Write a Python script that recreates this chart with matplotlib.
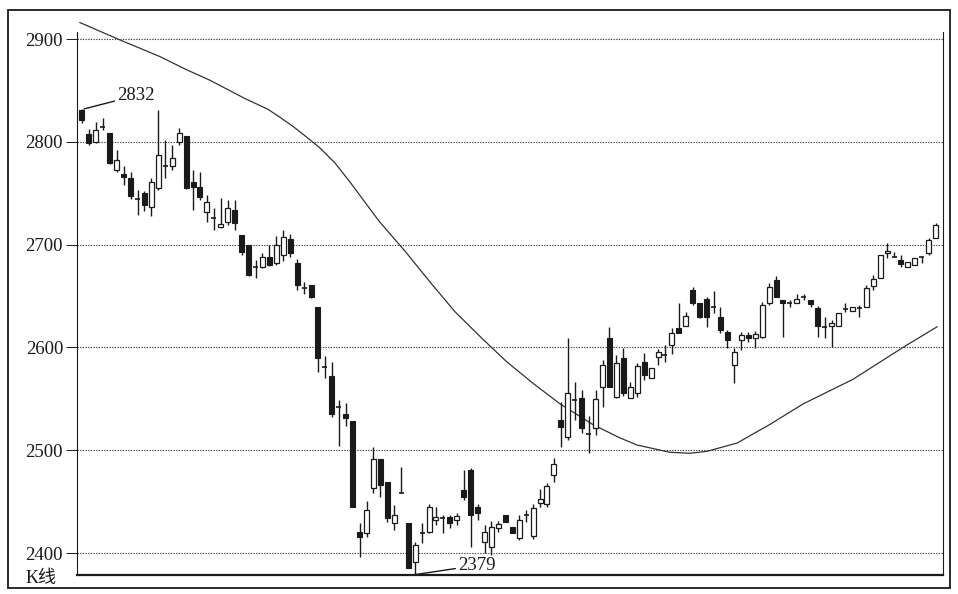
import matplotlib
matplotlib.use('Agg')
from matplotlib import pyplot as plt
from matplotlib.patches import Rectangle

# daily candles (open, close, high, low)
opens = [2831, 2808, 2800, 2814, 2809, 2773, 2769, 2765, 2744, 2750,
         2737, 2755, 2776, 2776, 2800, 2806, 2761, 2756, 2732, 2726,
         2717, 2722, 2734, 2709, 2700, 2678, 2678, 2688, 2682, 2690,
         2705, 2682, 2658, 2661, 2639, 2581, 2572, 2542, 2535, 2528,
         2420, 2419, 2463, 2491, 2469, 2429, 2458, 2429, 2391, 2419,
         2420, 2432, 2434, 2435, 2432, 2461, 2481, 2445, 2411, 2406,
         2424, 2437, 2425, 2415, 2437, 2417, 2449, 2448, 2476, 2529,
         2513, 2549, 2551, 2516, 2522, 2561, 2609, 2552, 2590, 2551,
         2556, 2586, 2570, 2591, 2593, 2602, 2619, 2621, 2656, 2643,
         2647, 2639, 2630, 2615, 2583, 2607, 2612, 2609, 2610, 2643,
         2666, 2646, 2643, 2643, 2649, 2646, 2638, 2620, 2621, 2621,
         2637, 2635, 2638, 2639, 2660, 2668, 2692, 2688, 2685, 2678,
         2680, 2688, 2692, 2706]
closes = [2821, 2799, 2811, 2815, 2779, 2782, 2766, 2747, 2745, 2739,
          2761, 2787, 2777, 2784, 2809, 2755, 2756, 2746, 2741, 2727,
          2720, 2736, 2721, 2693, 2670, 2679, 2688, 2680, 2700, 2707,
          2692, 2661, 2659, 2649, 2590, 2582, 2535, 2543, 2531, 2445,
          2416, 2442, 2491, 2466, 2434, 2437, 2458, 2385, 2408, 2420,
          2445, 2435, 2435, 2429, 2436, 2454, 2437, 2439, 2420, 2425,
          2428, 2430, 2419, 2432, 2438, 2444, 2453, 2465, 2487, 2523,
          2556, 2550, 2522, 2517, 2550, 2583, 2561, 2585, 2556, 2561,
          2582, 2573, 2580, 2596, 2594, 2614, 2614, 2631, 2643, 2630,
          2630, 2640, 2617, 2607, 2596, 2612, 2609, 2613, 2641, 2659,
          2649, 2643, 2644, 2647, 2650, 2642, 2621, 2621, 2624, 2633,
          2636, 2639, 2639, 2658, 2667, 2690, 2694, 2689, 2681, 2683,
          2687, 2688, 2704, 2719]
highs = [2832, 2812, 2819, 2823, 2809, 2792, 2776, 2771, 2753, 2752,
         2765, 2831, 2802, 2797, 2813, 2806, 2773, 2771, 2748, 2736,
         2745, 2743, 2743, 2709, 2700, 2685, 2692, 2700, 2708, 2714,
         2710, 2686, 2664, 2661, 2639, 2592, 2586, 2549, 2546, 2528,
         2429, 2451, 2503, 2491, 2469, 2447, 2484, 2429, 2411, 2429,
         2448, 2445, 2437, 2437, 2439, 2481, 2483, 2448, 2427, 2431,
         2431, 2437, 2425, 2437, 2442, 2448, 2462, 2468, 2492, 2547,
         2609, 2566, 2559, 2533, 2559, 2588, 2620, 2593, 2599, 2566,
         2585, 2595, 2580, 2598, 2602, 2619, 2643, 2634, 2659, 2643,
         2649, 2655, 2639, 2617, 2599, 2615, 2615, 2616, 2644, 2663,
         2669, 2646, 2646, 2652, 2652, 2646, 2640, 2630, 2627, 2633,
         2643, 2639, 2641, 2661, 2670, 2690, 2702, 2693, 2690, 2683,
         2687, 2688, 2706, 2721]
lows = [2818, 2797, 2799, 2811, 2778, 2771, 2758, 2744, 2729, 2733,
        2728, 2753, 2765, 2773, 2797, 2754, 2734, 2743, 2722, 2714,
        2716, 2719, 2714, 2690, 2669, 2668, 2677, 2679, 2680, 2684,
        2688, 2656, 2652, 2648, 2576, 2570, 2532, 2504, 2524, 2445,
        2396, 2416, 2458, 2454, 2430, 2422, 2458, 2385, 2379, 2410,
        2419, 2427, 2419, 2424, 2427, 2452, 2406, 2432, 2400, 2398,
        2420, 2430, 2419, 2413, 2430, 2414, 2445, 2445, 2469, 2503,
        2510, 2529, 2517, 2497, 2515, 2542, 2561, 2551, 2553, 2551,
        2552, 2568, 2570, 2583, 2586, 2594, 2614, 2621, 2641, 2629,
        2620, 2633, 2614, 2599, 2565, 2597, 2605, 2599, 2609, 2641,
        2649, 2610, 2639, 2643, 2646, 2639, 2610, 2609, 2600, 2621,
        2634, 2635, 2630, 2639, 2656, 2668, 2687, 2688, 2678, 2678,
        2680, 2682, 2690, 2706]

# moving average curve, sampled along the picture (candle index, value)
ma_idx = [-0.3, 5.5, 11.2, 15.1, 18.4, 21.8, 23.5, 26.7, 28.5, 30.4,
          32.1, 34.3, 36.5, 38.6, 40.8, 42.9, 44.7, 46.5, 50.1, 53.7,
          57.6, 61.2, 65.0, 68.9, 73.6, 77.5, 80.0, 84.7, 87.6, 90.1,
          94.4, 99.1, 103.9, 111.1, 118.3, 123.2]
ma_val = [2916, 2899, 2883, 2870, 2860, 2848, 2842, 2832, 2824, 2815,
          2806, 2794, 2779, 2761, 2741, 2722, 2708, 2694, 2664, 2635,
          2609, 2586, 2565, 2545, 2525, 2512, 2505, 2498, 2497, 2499,
          2507, 2525, 2545, 2569, 2600, 2620]

yticks = [2400, 2500, 2600, 2700, 2800, 2900]
ink = '#1a1a1a'
fam = ['Liberation Serif', 'Noto Sans CJK SC']
plt.rcParams['font.family'] = fam

fig = plt.figure(figsize=(9.58, 5.94), dpi=100)
fig.patches.append(Rectangle((8 / 958, 6 / 594), 942 / 958, 578 / 594,
                             transform=fig.transFigure, fill=False,
                             edgecolor=ink, linewidth=1.3))
ax = fig.add_axes([77 / 958, 19 / 594, 866 / 958, 562 / 594])

ybot, ytop = 2378.6, 2925.3
ax.set_xlim(-0.72, 124.06)
ax.set_ylim(ybot, ytop)

n = len(opens)
for i in range(n):
    o, c, h, l = opens[i], closes[i], highs[i], lows[i]
    ax.vlines(i, l, h, color=ink, linewidth=1.0, zorder=2)
    lo, hi = min(o, c), max(o, c)
    if hi - lo < 1.2:
        ax.hlines(o, i - 0.36, i + 0.36, color=ink, linewidth=1.2, zorder=3)
        continue
    if c < o:
        ax.bar(i, hi - lo, bottom=lo, width=0.72, color=ink, edgecolor=ink,
               linewidth=0.8, zorder=3)
    else:
        ax.bar(i, hi - lo, bottom=lo, width=0.72, color='white', edgecolor=ink,
               linewidth=0.9, zorder=3)

ax.plot(ma_idx, ma_val, color='#333333', linewidth=0.9, zorder=1)

# gridlines
for v in yticks:
    ax.axhline(v, color='#444444', linestyle=(0, (1.2, 1.2)), linewidth=0.8, zorder=0)

ax.spines['top'].set_visible(False)
ax.spines['left'].set_bounds(ybot, 2907)
ax.spines['right'].set_bounds(ybot, 2907)
ax.spines['left'].set_color(ink)
ax.spines['right'].set_color(ink)
ax.spines['right'].set_linewidth(0.8)
ax.spines['bottom'].set_color(ink)
ax.spines['bottom'].set_linewidth(1.6)
ax.set_xticks([])
ax.set_yticks(yticks)
ax.set_yticklabels([str(v) for v in yticks], fontsize=13.5, color=ink)
ax.tick_params(axis='y', length=8, width=0.7, pad=2, colors=ink)

# annotations for the high and the low
ax.annotate('2832', xy=(0.3, 2832), xytext=(5.1, 2845), fontsize=13.5, color=ink,
            va='center', ha='left',
            arrowprops=dict(arrowstyle='-', color=ink, linewidth=1.0, shrinkA=0, shrinkB=0))
ax.annotate('2379', xy=(48, 2379), xytext=(54.2, 2388), fontsize=13.5, color=ink,
            va='center', ha='left',
            arrowprops=dict(arrowstyle='-', color=ink, linewidth=1.0, shrinkA=0, shrinkB=0))

fig.text(26 / 958, 1 - 579 / 594, 'K线', fontsize=13, color=ink, va='center',
         ha='left', family=fam)

fig.savefig('out.png', dpi=100)
